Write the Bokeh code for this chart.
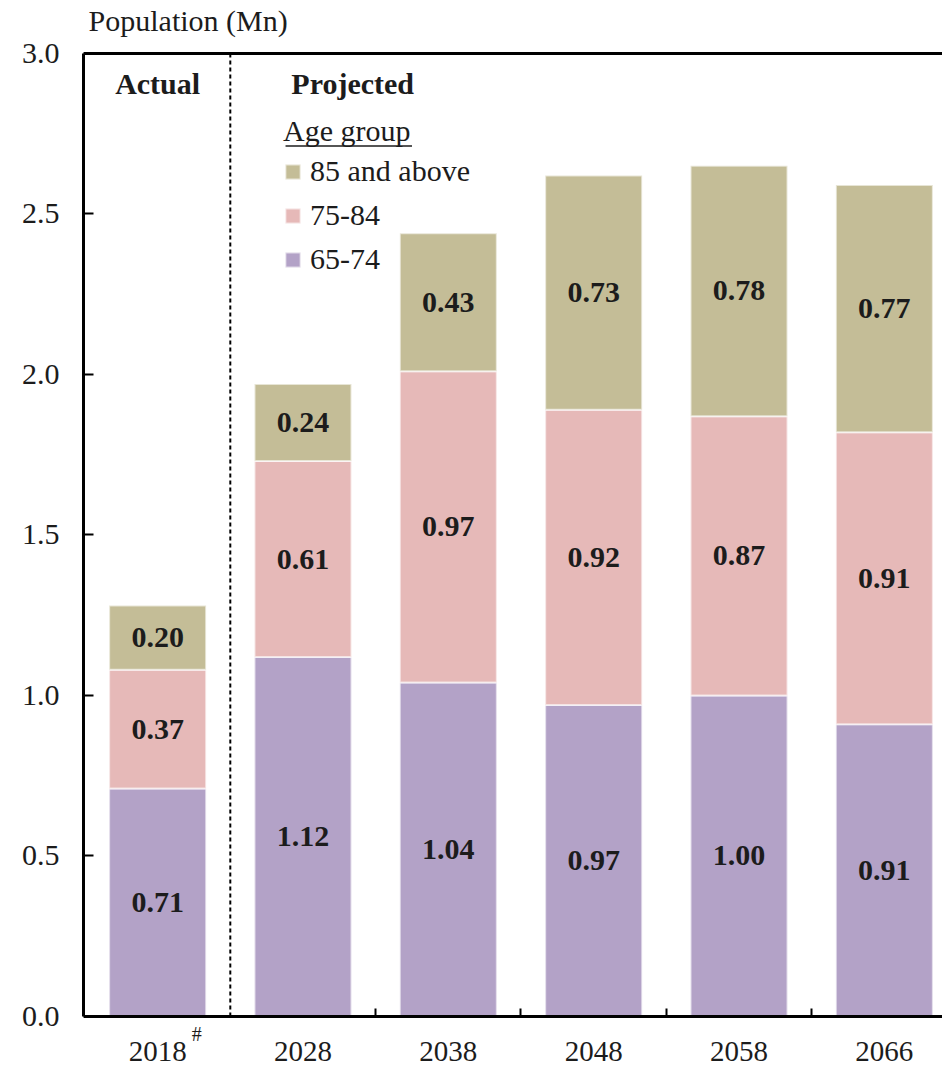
from bokeh.plotting import figure
from bokeh.models import (ColumnDataSource, Range1d, LinearAxis, FixedTicker,
                          Legend, LegendItem)
from bokeh.core.properties import value
from bokeh.embed import file_html
from bokeh.resources import INLINE

# ---------------- data ----------------
years = ["2018", "2028", "2038", "2048", "2058", "2066"]
age_groups = ["65-74", "75-84", "85 and above"]
pop_65_74 = [0.71, 1.12, 1.04, 0.97, 1.00, 0.91]
pop_75_84 = [0.37, 0.61, 0.97, 0.92, 0.87, 0.91]
pop_85_up = [0.20, 0.24, 0.43, 0.73, 0.78, 0.77]
y_ticks = [0.0, 0.5, 1.0, 1.5, 2.0, 2.5, 3.0]
y_tick_labels = ["0.0", "0.5", "1.0", "1.5", "2.0", "2.5", "3.0"]
colors = ["#B3A2C7", "#E6B9B8", "#C4BD97"]

FONT = "Liberation Serif"
FS = "30px"
TXT = "#1c1c1c"

xs = list(range(len(years)))
series = [pop_65_74, pop_75_84, pop_85_up]

src = ColumnDataSource(data=dict(x=xs, a=pop_65_74, b=pop_75_84, c=pop_85_up))

# frame covers the full canvas height; 0..3 maps to pixels 1016..53
p = figure(width=942, height=1066,
           x_range=Range1d(-0.51, 5.40), y_range=Range1d(-0.156, 3.165),
           output_backend="svg", toolbar_location=None,
           x_axis_type=None, y_axis_type=None,
           min_border_left=83, min_border_right=0,
           min_border_top=0, min_border_bottom=0)
p.outline_line_color = None
p.background_fill_color = "white"
p.border_fill_color = "white"

renderers = p.vbar_stack(["a", "b", "c"], x="x", width=0.667, source=src,
                         color=colors, line_color="white", line_alpha=0.6,
                         line_width=2)

# value labels
txt_x, txt_y, txt = [], [], []
for i in xs:
    base = 0.0
    for s in series:
        v = s[i]
        txt_x.append(i)
        txt_y.append(base + v / 2)
        txt.append("%.2f" % v)
        base += v
p.text(x=txt_x, y=txt_y, text=txt, text_align="center", text_baseline="middle",
       text_font=value(FONT), text_font_size=FS, text_font_style="bold",
       text_color=TXT)

# Actual / Projected
p.text(x=[0], y=[2.905], text=["Actual"], text_align="center", text_baseline="middle",
       text_font=value(FONT), text_font_size=FS, text_font_style="bold",
       text_color=TXT)
p.text(x=[0.92], y=[2.905], text=["Projected"], text_align="left", text_baseline="middle",
       text_font=value(FONT), text_font_size=FS, text_font_style="bold",
       text_color=TXT)

# dashed divider between actual and projected
p.segment(x0=[0.5], y0=[0], x1=[0.5], y1=[3.0], line_color="black",
          line_width=2, line_dash="4 3")

# axes
left = LinearAxis(ticker=FixedTicker(ticks=y_ticks), bounds=(0, 3.0),
                  major_label_overrides={t: l for t, l in zip(y_ticks, y_tick_labels)})
left.axis_line_width = 3
left.axis_line_color = "black"
left.major_tick_in = 10
left.major_tick_out = 0
left.major_tick_line_width = 2
left.minor_tick_line_color = None
left.major_label_standoff = 24
left.major_label_text_font = FONT
left.major_label_text_font_size = FS
left.major_label_text_color = TXT
p.add_layout(left, "left")

bottom = LinearAxis(ticker=FixedTicker(ticks=xs, minor_ticks=[1.5, 2.5, 3.5, 4.5]),
                    major_label_overrides={i: y for i, y in zip(xs, years)},
                    fixed_location=0)
bottom.axis_line_width = 3
bottom.axis_line_color = "black"
bottom.major_tick_line_color = None
bottom.minor_tick_in = 8
bottom.minor_tick_out = 0
bottom.minor_tick_line_width = 2
bottom.major_label_standoff = 20
bottom.major_label_text_font = FONT
bottom.major_label_text_font_size = "29px"
bottom.major_label_text_color = TXT
p.add_layout(bottom, "below")

top = LinearAxis(ticker=FixedTicker(ticks=[]), fixed_location=3.0)
top.axis_line_width = 3
top.axis_line_color = "black"
top.major_label_text_font_size = "0px"
top.major_tick_line_color = None
top.minor_tick_line_color = None
p.add_layout(top, "above")

# superscript mark on 2018
p.text(x=[0.27], y=[-0.056], text=["#"], text_align="center", text_baseline="middle",
       text_font=value(FONT), text_font_size="20px", text_color=TXT)

# axis title
p.text(x=[-0.475], y=[3.102], text=["Population (Mn)"], text_align="left",
       text_baseline="alphabetic", text_font=value(FONT), text_font_size=FS,
       text_color=TXT)

# legend title underline
p.segment(x0=[0.88], y0=[2.712], x1=[1.75], y1=[2.712], line_color="#555555",
          line_width=2)

# legend
items = [LegendItem(label=age_groups[k], renderers=[renderers[k]]) for k in [2, 1, 0]]
legend = Legend(items=items, title="Age group", location=(200, 790),
                glyph_width=19, glyph_height=19, label_text_font=FONT,
                label_text_font_size=FS, title_text_font=FONT,
                title_text_font_size=FS, title_text_font_style="normal",
                label_text_color=TXT, title_text_color=TXT,
                border_line_color=None, background_fill_alpha=0,
                padding=0, margin=0, spacing=10, label_standoff=8,
                title_standoff=6)
p.add_layout(legend)

open("out.html", "w").write(file_html(p, INLINE))
